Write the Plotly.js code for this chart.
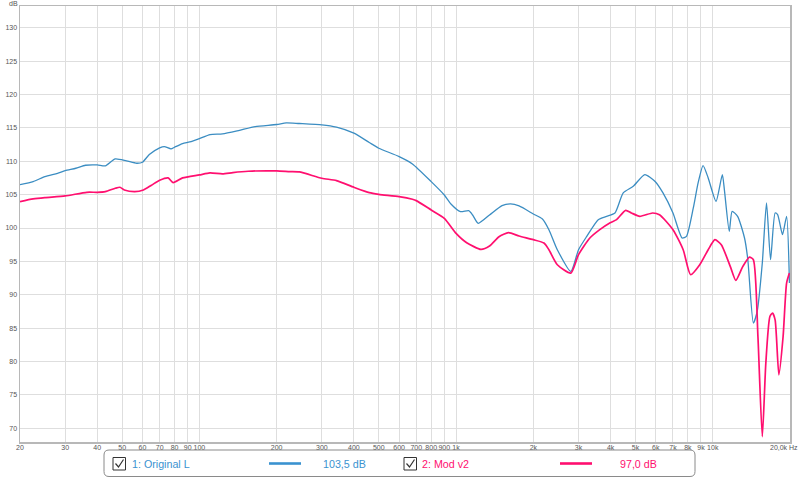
<!DOCTYPE html>
<html>
<head>
<meta charset="utf-8">
<script src="https://cdn.plot.ly/plotly-3.0.1.min.js"></script>
<style>html,body{margin:0;padding:0;background:#fff;}#chart{width:800px;height:478px;}</style>
</head>
<body>
<div id="chart"></div>
<script>
// ---- data ----
const freqOriginal = [20,22.5,25,28,30,33,36,40,43,47,52,57,60,63.8,70,73,77.5,80,86,91.7,100,110,123,142,165,200,218,245,300,342,400,459,500,600,676,800,900,955,1040,1120,1160,1220,1350,1510,1630,1760,2000,2170,2300,2480,2800,3000,3230,3580,3860,4160,4480,4900,5440,5950,6400,7000,7600,7900,8400,8770,9170,9600,10300,10900,11100,11600,11900,12500,13300,13700,14400,14900,15600,16200,16800,17500,17900,18700,19400,19900];
const dbOriginal = [106.5,106.95,107.7,108.2,108.6,108.95,109.4,109.45,109.3,110.35,110.05,109.7,109.85,111.0,112.0,112.2,111.85,112.1,112.65,112.9,113.4,114.0,114.1,114.6,115.2,115.5,115.75,115.65,115.45,115.1,114.2,112.8,111.95,110.7,109.6,106.95,104.95,103.6,102.45,102.6,101.95,100.7,101.95,103.35,103.6,103.3,102.1,101.35,99.75,96.75,93.5,96.75,98.75,101.25,101.75,102.25,105.25,106.25,108.0,107.0,105.25,102.25,98.5,98.75,103.0,106.75,109.35,107.5,104.0,108.0,105.75,99.5,102.5,101.75,98.5,95.25,85.75,87.5,94.75,103.75,95.25,102.25,102.0,99.0,101.75,91.75];

const freqMod = [20,22.5,25,30,36.4,40,43,47,49,51,56,60.5,65,70,75.5,79,86,100,110,123,135,155,200,225,245,300,342,400,459,500,600,676,700,800,900,1000,1100,1250,1350,1470,1600,1760,2000,2200,2300,2480,2800,3000,3320,3630,3970,4220,4580,4820,5200,5830,6200,7000,7670,8200,8900,9600,10200,10800,11700,12300,13100,13900,14400,15000,15600,16100,16700,17100,17500,18100,18800,19400,19900];
const dbMod = [103.95,104.35,104.55,104.8,105.35,105.35,105.45,105.95,106.1,105.7,105.45,105.7,106.4,107.15,107.5,106.8,107.5,107.95,108.25,108.1,108.3,108.5,108.55,108.45,108.4,107.45,107.1,106.1,105.3,105.05,104.7,104.3,104.1,102.7,101.45,99.2,97.8,96.8,97.3,98.7,99.3,98.8,98.25,97.75,96.75,94.5,93.25,96.0,98.5,99.75,100.75,101.25,102.65,102.25,101.75,102.25,102.0,99.75,96.75,93.0,94.5,96.75,98.25,97.5,94.25,92.15,94.25,95.65,95.25,83.75,68.75,79.75,86.75,87.25,86.25,78.0,83.75,91.75,93.25];

const seriesNames = ["1: Original L", "2: Mod v2"];
const seriesLevels = ["103,5 dB", "97,0 dB"];

const xTickVals = [20,30,40,50,60,70,80,90,100,200,300,400,500,600,700,800,900,1000,2000,3000,4000,5000,6000,7000,8000,9000,10000];
const xTickText = ["20","30","40","50","60","70","80","90","100","200","300","400","500","600","700","800","900","1k","2k","3k","4k","5k","6k","7k","8k","9k","10k"];
const xEndLabel = "20,0k Hz";
const yTickVals = [70,75,80,85,90,95,100,105,110,115,120,125,130];
const yTickText = yTickVals.map(String);

// ---- styling ----
const BLUE = '#3b8dc2';
const PINK = '#ff0f6f';
const PL = 20, PR = 790, PT = 6, PB = 442;
function P(px, py){ return [(px-PL)/(PR-PL), (PB-py)/(PB-PT)]; }

const traces = [
  {x: freqOriginal, y: dbOriginal, type:'scatter', mode:'lines', name: seriesNames[0],
   line:{color:BLUE, width:1.3, shape:'spline', smoothing:0.6}, hoverinfo:'skip'},
  {x: freqMod, y: dbMod, type:'scatter', mode:'lines', name: seriesNames[1],
   line:{color:PINK, width:1.7, shape:'spline', smoothing:0.6}, hoverinfo:'skip'}
];

const shapes = [];
const annotations = [];

// legend box (rounded)
(function(){
  const x0=104,x1=695,y0=450,y1=476.5,r=5;
  const pts = (a,b)=>P(a,b).join(',');
  const path = 'M'+pts(x0+r,y0)+' L'+pts(x1-r,y0)+' Q'+pts(x1,y0)+' '+pts(x1,y0+r)+
    ' L'+pts(x1,y1-r)+' Q'+pts(x1,y1)+' '+pts(x1-r,y1)+' L'+pts(x0+r,y1)+' Q'+pts(x0,y1)+' '+pts(x0,y1-r)+
    ' L'+pts(x0,y0+r)+' Q'+pts(x0,y0)+' '+pts(x0+r,y0)+' Z';
  shapes.push({type:'path', xref:'paper', yref:'paper', path:path, line:{color:'#8a8a8a', width:1}, fillcolor:'rgba(0,0,0,0)', layer:'above'});
})();

function addItem(cbx, textX, lineX0, lineX1, valX, color, name, level){
  const a=P(cbx,457.5), b=P(cbx+12.5,470);
  shapes.push({type:'rect', xref:'paper', yref:'paper', x0:a[0], y0:b[1], x1:b[0], y1:a[1], line:{color:'#333', width:1}, fillcolor:'#fff'});
  const c1=P(cbx+2.5,463.5), c2=P(cbx+5.5,467), c3=P(cbx+10.5,459.5);
  shapes.push({type:'path', xref:'paper', yref:'paper', path:'M'+c1.join(',')+' L'+c2.join(',')+' L'+c3.join(','), line:{color:'#333', width:1.2}});
  const l0=P(lineX0,463.5), l1=P(lineX1,463.5);
  shapes.push({type:'line', xref:'paper', yref:'paper', x0:l0[0], y0:l0[1], x1:l1[0], y1:l1[1], line:{color:color, width:2.6}});
  const t=P(textX,463.5);
  annotations.push({xref:'paper', yref:'paper', x:t[0], y:t[1], xanchor:'left', yanchor:'middle', showarrow:false, text:name, font:{family:'Liberation Sans, Arial, sans-serif', size:10.7, color:color}});
  const v=P(valX,463.5);
  annotations.push({xref:'paper', yref:'paper', x:v[0], y:v[1], xanchor:'left', yanchor:'middle', showarrow:false, text:level, font:{family:'Liberation Sans, Arial, sans-serif', size:10.7, color:color}});
}
addItem(113, 130, 269, 301, 321, '#3a92d0', seriesNames[0], seriesLevels[0]);
addItem(404, 420, 560, 592, 618, PINK, seriesNames[1], seriesLevels[1]);

// dB unit label
const u = P(13,3.5);
annotations.push({xref:'paper', yref:'paper', x:u[0], y:u[1], xanchor:'center', yanchor:'middle', showarrow:false, text:'dB', font:{family:'Liberation Sans, Arial, sans-serif', size:7, color:'#555'}});
// end-of-axis label
const e = P(799,447);
annotations.push({xref:'paper', yref:'paper', x:e[0], y:e[1], xanchor:'right', yanchor:'middle', showarrow:false, borderpad:0, text:xEndLabel, font:{family:'Liberation Sans, Arial, sans-serif', size:7, color:'#555'}});

const layout = {
  width:800, height:478,
  margin:{l:PL, r:800-PR, t:PT, b:478-PB},
  paper_bgcolor:'#fff', plot_bgcolor:'#fff',
  showlegend:false,
  xaxis:{type:'log', range:[Math.log10(20), Math.log10(20000)], tickmode:'array', tickvals:xTickVals, ticktext:xTickText,
    tickfont:{family:'Liberation Sans, Arial, sans-serif', size:7, color:'#555'}, ticks:'', tickangle:0, ticklabelstandoff:-2,
    showgrid:true, gridcolor:'#dedede', gridwidth:1, showline:true, linecolor:'#b8b8b8', linewidth:1.5, mirror:true, zeroline:false, fixedrange:true},
  yaxis:{range:[67.95,133.25], tickmode:'array', tickvals:yTickVals, ticktext:yTickText,
    tickfont:{family:'Liberation Sans, Arial, sans-serif', size:7, color:'#555'}, ticks:'',
    showgrid:true, gridcolor:'#dedede', gridwidth:1, showline:true, linecolor:'#b8b8b8', linewidth:1.5, mirror:true, zeroline:false, fixedrange:true},
  shapes:shapes, annotations:annotations
};

Plotly.newPlot('chart', traces, layout, {displayModeBar:false, staticPlot:true});
</script>
</body>
</html>
